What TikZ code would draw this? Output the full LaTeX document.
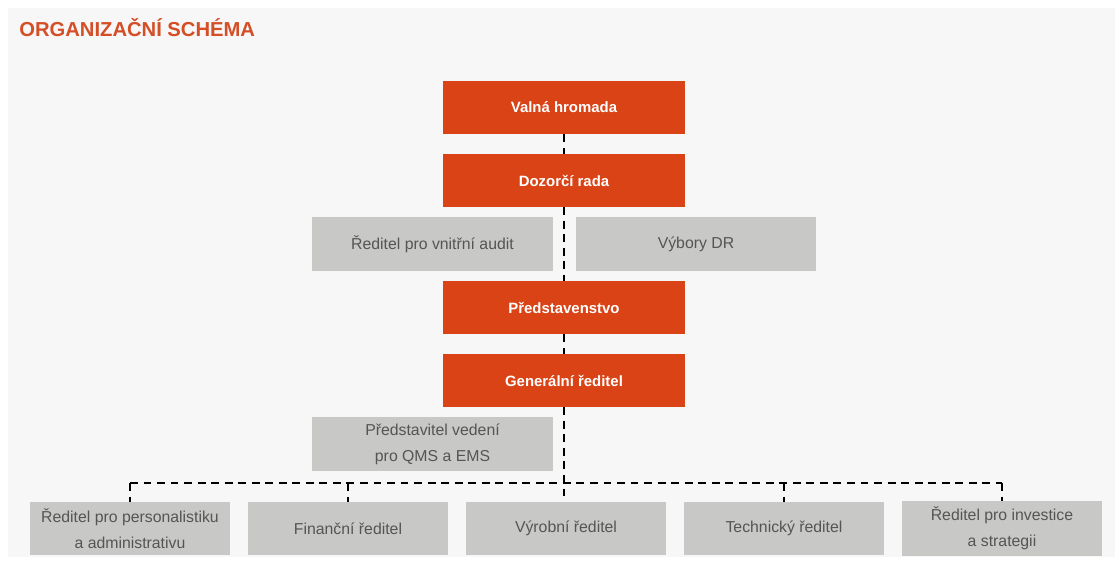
\documentclass[tikz,border=0pt]{standalone}
\usepackage{fontspec}
\setmainfont{Liberation Sans}
\usepackage{xcolor}
\usepackage{tikz}
\usetikzlibrary{positioning}
\definecolor{boardorange}{RGB}{217, 67, 22}
\definecolor{titleorange}{RGB}{212, 78, 38}
\definecolor{staffgray}{RGB}{200, 200, 198}
\definecolor{textgray}{RGB}{85, 85, 85}
\definecolor{pagegray}{RGB}{247, 247, 247}

\begin{document}
\begin{tikzpicture}[x=0.02cm, y=-0.02cm,
  orangebox/.style={rectangle,fill=boardorange,minimum width=4.84cm,minimum height=1.06cm,text=white,font=\fontsize{8.5}{12}\selectfont\bfseries},
  graybox/.style={rectangle,fill=staffgray,minimum width=4.82cm,minimum height=1.08cm,text=textgray,align=center,font=\fontsize{9}{15}\selectfont},
  unitbox/.style={graybox,minimum width=4cm,minimum height=1.06cm},
  link/.style={black,line width=1.6pt,dash pattern=on 4.5pt off 3.2pt}]

% Page and background
\useasboundingbox (0,0) rectangle (1115,566);
\fill[white] (0,0) rectangle (1115,566);
\fill[pagegray] (8,8) rectangle (1115,557);

% Title
\node[anchor=base west,inner sep=0pt,text=titleorange,font=\fontsize{11.5}{14}\selectfont\bfseries] at (19,36) (title) {ORGANIZAČNÍ SCHÉMA};

% Governing bodies
\node[orangebox] at (564,107.5) (VH) {Valná hromada};
\node[orangebox] at (564,180.5) (DR) {Dozorčí rada};
\node[orangebox] at (564,307.5) (PS) {Představenstvo};
\node[orangebox] at (564,380.5) (GR) {Generální ředitel};

% Staff boxes
\node[graybox] at (432.5,244) (AU) {Ředitel pro vnitřní audit};
\node[graybox] at (696,244) (VD) {Výbory DR};
\node[graybox] at (432.5,444) (QM) {Představitel vedení\\pro QMS a EMS};

% Directors
\node[unitbox] at (130,528.5) (R1) {Ředitel pro personalistiku\\a administrativu};
\node[unitbox] at (348,528.5) (R2) {Finanční ředitel};
\node[unitbox] at (566,528.5) (R3) {Výrobní ředitel};
\node[unitbox] at (784,528.5) (R4) {Technický ředitel};
\node[unitbox] at (1002,528.5) (R5) {Ředitel pro investice\\a strategii};

% Main line
\draw[link] (VH) -- (DR);
\draw[link] (DR) -- (PS);
\draw[link] (PS) -- (GR);
\draw[link] (GR.south) -- (GR.south |- R3.north);

% Bus to directors
\coordinate (bus) at (564,483);
\draw[link] (R1.north |- bus) -- (R5.north |- bus);
\foreach \d in {R1,R2,R4,R5}
  \draw[link] (\d.north |- bus) -- (\d.north);
\end{tikzpicture}
\end{document}
